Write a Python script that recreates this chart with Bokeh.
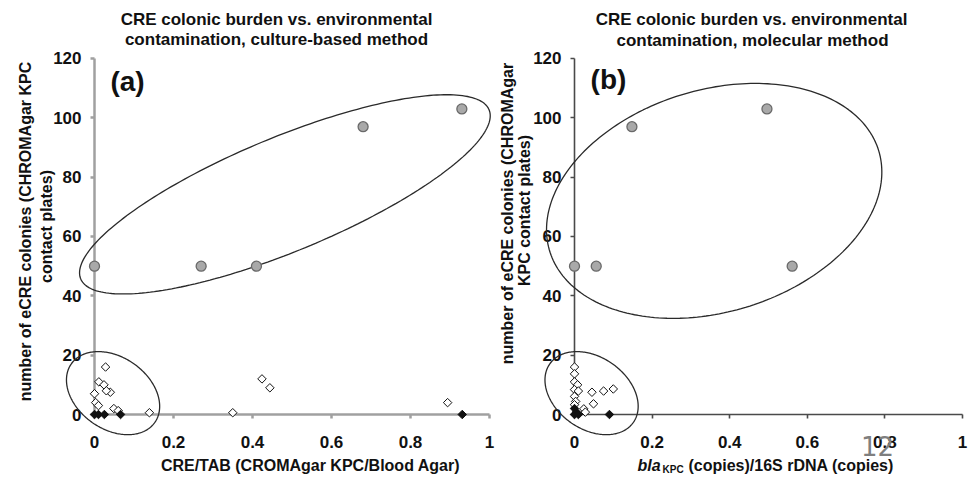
import numpy as np
from bokeh.plotting import figure
from bokeh.models import LinearAxis, Range1d, Label, FixedTicker, NumeralTickFormatter
from bokeh.layouts import row
from bokeh.embed import file_html
from bokeh.resources import INLINE

# ---------------- data ----------------
x_ticks = [0, 0.2, 0.4, 0.6, 0.8, 1.0]
y_ticks = [0, 20, 40, 60, 80, 100, 120]

# panel (a): culture-based method
a_high_x = [0.0, 0.27, 0.41, 0.68, 0.93]
a_high_y = [50, 50, 50, 97, 103]
a_low_x = [0.028, 0.011, 0.024, 0.04, 0.03, 0.0, 0.003, 0.01, 0.049, 0.06, 0.139, 0.35, 0.424, 0.444, 0.894]
a_low_y = [16, 11, 10, 7.5, 8, 7, 4, 3, 2, 1.3, 0.6, 0.6, 12, 9, 4]
a_zero_x = [0.0, 0.01, 0.025, 0.066, 0.931]
a_zero_y = [0, 0, 0, 0, 0]

# panel (b): molecular method
b_high_x = [0.0, 0.056, 0.148, 0.496, 0.561]
b_high_y = [50, 50, 97, 103, 50]
b_low_x = [0.0, 0.0, 0.0, 0.008, 0.0, 0.01, 0.0, 0.003, 0.0, 0.024, 0.045, 0.049, 0.075, 0.1, 0.028]
b_low_y = [16, 13.7, 11, 10, 8.4, 7.9, 6.1, 4.4, 3.3, 1.9, 7.5, 3.6, 7.9, 8.6, 0.8]
b_zero_x = [0.0, 0.005, 0.01, 0.0, 0.09]
b_zero_y = [0, 0.8, 0, 2, 0]

title_a = ["CRE colonic burden vs. environmental", "contamination, culture-based method"]
title_b = ["CRE colonic burden vs. environmental", "contamination, molecular method"]
ylab_a = ["number of eCRE colonies (CHROMAgar KPC", "contact plates)"]
ylab_b = ["number of eCRE colonies (CHROMAgar", "KPC contact plates)"]
xlab_a = "CRE/TAB (CROMAgar KPC/Blood Agar)"

# ---------------- geometry (page pixels of the reference) ----------------
H = 476
W_L, W_R = 496, 473
SY = 2.967            # px per y unit
SX_L, SX_R = 395.0, 388.0
X0_L, X0_R = 94.0, 574.0  # page x of x=0
Y0 = 414.0                # page y of y=0
OFF = 0                   # page offset of the canvas

def ly(py):
    return (Y0 - py) / SY

def lx(px):
    return (px - X0_L) / SX_L

def rx(px):
    return (px - X0_R) / SX_R

FONT = "Liberation Sans"

def make_fig(width, x0px, sx, off):
    xr = Range1d((off - x0px) / sx, (off + width - x0px) / sx)
    yr = Range1d(ly(OFF + H), ly(OFF))
    p = figure(width=width, height=H, x_range=xr, y_range=yr,
               x_axis_type=None, y_axis_type=None,
               output_backend="svg", toolbar_location=None,
               min_border=0, outline_line_color=None,
               background_fill_color="white", border_fill_color="white")
    return p

def style_axis(ax, color, lw):
    ax.axis_line_color = color
    ax.axis_line_width = lw
    ax.major_tick_line_color = color
    ax.major_tick_line_width = lw
    ax.major_tick_out = 4
    ax.major_tick_in = 0
    ax.minor_tick_out = 0
    ax.minor_tick_in = 0
    ax.major_label_text_font = FONT
    ax.major_label_text_font_size = "17px"
    ax.major_label_text_font_style = "bold"
    ax.major_label_text_color = "#111111"
    ax.level = "underlay"

def add_axes(p, color, lw):
    xa = LinearAxis(fixed_location=0, bounds=(0, 1),
                    ticker=FixedTicker(ticks=x_ticks),
                    formatter=NumeralTickFormatter(format="0.[0]"))
    style_axis(xa, color, lw)
    xa.major_label_standoff = 17
    p.add_layout(xa, "below")
    ya = LinearAxis(fixed_location=0, bounds=(0, 120),
                    ticker=FixedTicker(ticks=y_ticks))
    style_axis(ya, color, lw)
    ya.major_label_standoff = 9
    p.add_layout(ya, "left")

def ellipse(p, cx, cy, a, b, theta_deg, sx):
    t = np.linspace(0, 2 * np.pi, 240)
    th = np.deg2rad(theta_deg)
    xs = cx + (a * np.cos(t) * np.cos(th) - b * np.sin(t) * np.sin(th)) / sx
    ys = cy + (a * np.cos(t) * np.sin(th) + b * np.sin(t) * np.cos(th)) / SY
    p.line(xs, ys, line_color="#2a2a2a", line_width=1.3)

def points(p, hx, hy, lx_, ly_, zx, zy):
    p.scatter(hx, hy, marker="circle", size=10, fill_color="#a9a9a9",
              line_color="#6a6a6a", line_width=1.3)
    p.scatter(lx_, ly_, marker="square", angle=np.pi / 4, size=6,
              fill_color="white", line_color="#111111", line_width=1)
    p.scatter(zx, zy, marker="square", angle=np.pi / 4, size=6,
              fill_color="#111111", line_color="#111111", line_width=1)

def lab(p, x, y, text, size="17px", style="bold", angle=0, align="center",
        font=FONT, color="#111111"):
    p.add_layout(Label(x=x, y=y, text=text, angle=angle, text_align=align,
                       text_baseline="middle", text_font=font,
                       text_font_size=size, text_font_style=style,
                       text_color=color))

# ---------------- panel (a) ----------------
pa = make_fig(W_L, X0_L, SX_L, OFF)
add_axes(pa, "#a0a0a0", 2.5)
ellipse(pa, 0.482, 74.2, 221, 57, 22.5, SX_L)
ellipse(pa, 0.047, 7.2, 51, 36, -35, SX_L)
points(pa, a_high_x, a_high_y, a_low_x, a_low_y, a_zero_x, a_zero_y)
lab(pa, lx(276), ly(18.5), title_a[0])
lab(pa, lx(276), ly(38.5), title_a[1])
lab(pa, lx(127), ly(81), "(a)", size="28px")
lab(pa, lx(25), ly(231), ylab_a[0], size="16px", angle=np.pi / 2)
lab(pa, lx(46), ly(226), ylab_a[1], size="16px", angle=np.pi / 2)
lab(pa, lx(310), ly(465), xlab_a, size="16px")

# ---------------- panel (b) ----------------
pb = make_fig(W_R, X0_R, SX_R, OFF + W_L)
add_axes(pb, "#4a4a4a", 1.6)
ellipse(pb, 0.36, 72.0, 172, 111, 17, SX_R)
ellipse(pb, 0.044, 7.2, 51, 36, -35, SX_R)
points(pb, b_high_x, b_high_y, b_low_x, b_low_y, b_zero_x, b_zero_y)
lab(pb, rx(751), ly(19), title_b[0])
lab(pb, rx(752), ly(39.5), title_b[1])
lab(pb, rx(608), ly(79), "(b)", size="28px")
lab(pb, rx(507), ly(213), ylab_b[0], size="16px", angle=np.pi / 2)
lab(pb, rx(524), ly(210), ylab_b[1], size="16px", angle=np.pi / 2)
lab(pb, rx(637), ly(465), "bla", size="16px", style="bold italic", align="left")
lab(pb, rx(662), ly(469), "KPC", size="10px", align="left")
lab(pb, rx(688), ly(465), "(copies)/16S rDNA (copies)", size="16px", align="left")
lab(pb, rx(877), ly(445), "12", size="26px", style="normal",
    font="DejaVu Sans", color="#7f7f7f")

layout = row(pa, pb)
open("out.html", "w").write(file_html(layout, INLINE))
